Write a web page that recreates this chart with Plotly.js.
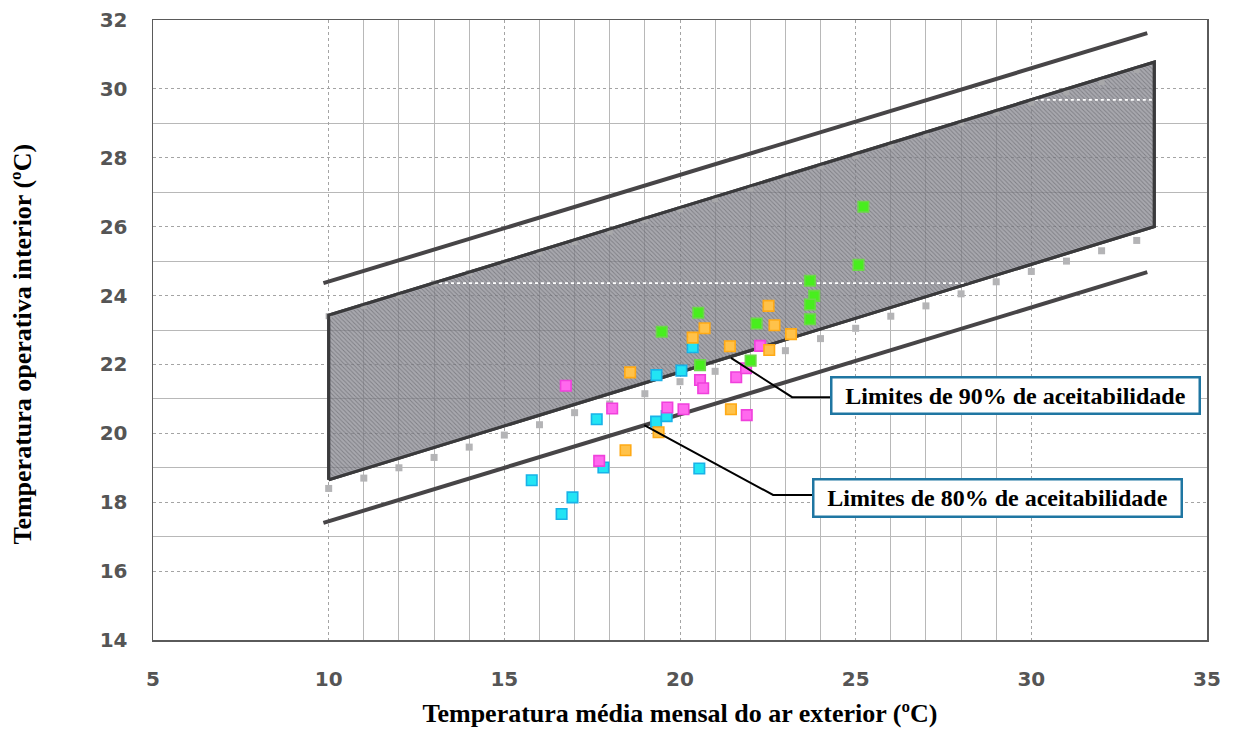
<!DOCTYPE html>
<html>
<head>
<meta charset="utf-8">
<script src="https://cdn.plot.ly/plotly-3.0.1.min.js"></script>
<style>
  html, body { margin: 0; padding: 0; background: #ffffff; }
  #chart { width: 1237px; height: 729px; }
</style>
</head>
<body>
<div id="chart"></div>
<script>
// Axis ticks
const xTickVals = [5, 10, 15, 20, 25, 30, 35];
const yTickVals = [14, 16, 18, 20, 22, 24, 26, 28, 30, 32];
const xMinorGrid = [11, 12, 13, 14, 16, 17, 18, 19, 21, 22, 23, 24, 26, 27, 28, 29];
const yMinorGrid = [17, 19, 21, 23, 25, 27, 29];

// 90% acceptability band (closed outline)
const band90X = [10, 33.5, 33.5, 10, 10];
const band90Y = [18.65, 26.0, 30.78, 23.43, 18.65];

// 80% acceptability limits
const lim80X = [9.85, 33.3];
const lim80Upper = [24.36, 31.62];
const lim80Lower = [17.4, 24.68];

// White construction lines inside the band
const innerLineAX = [12.97, 28.26];
const innerLineAY = [24.36, 24.36];
const innerLineBX = [30.1, 33.5];
const innerLineBY = [29.68, 29.68];

// Reference markers along the 90% limits
const refX = [10, 11, 12, 13, 14, 15, 16, 17, 18, 19, 20, 21, 22, 23, 24, 25, 26, 27, 28, 29, 30, 31, 32, 33];
const refLower = [18.4, 18.7, 19.0, 19.3, 19.6, 19.95, 20.25, 20.6, 20.85, 21.15, 21.5, 21.8, 22.1, 22.4, 22.75, 23.05, 23.4, 23.7, 24.05, 24.4, 24.7, 25.0, 25.3, 25.6];
const refUpper = [23.4, 23.7, 24.0, 24.35, 24.65, 24.95, 25.25, 25.55, 25.85, 26.2, 26.5, 26.8, 27.1, 27.45, 27.75, 28.05, 28.35, 28.65, 29.0, 29.3, 29.6, 29.9, 30.2, 30.55];

// Measured points (outdoor mean monthly temperature, indoor operative temperature)
const cyanX = [20.36, 19.33, 20.04, 17.63, 19.32, 19.62, 17.82, 20.55, 15.78, 16.94, 16.63];
const cyanY = [22.50, 21.69, 21.82, 20.41, 20.34, 20.50, 19.01, 18.98, 18.64, 18.14, 17.66];
const magentaX = [22.28, 16.75, 18.07, 19.64, 20.10, 20.57, 20.66, 21.60, 21.88, 21.90, 17.70];
const magentaY = [22.54, 21.38, 20.72, 20.75, 20.70, 21.55, 21.31, 21.63, 21.89, 20.53, 19.20];
const orangeX = [22.52, 22.69, 23.16, 20.70, 20.36, 21.42, 22.54, 18.58, 21.45, 19.39, 18.45];
const orangeY = [23.70, 23.14, 22.88, 23.05, 22.78, 22.53, 22.42, 21.77, 20.70, 20.03, 19.51];
const greenX = [25.22, 25.08, 23.70, 23.82, 23.70, 23.70, 20.52, 19.48, 22.18, 22.01, 20.57];
const greenY = [26.58, 24.89, 24.43, 23.99, 23.74, 23.31, 23.50, 22.95, 23.19, 22.11, 21.98];

// Callout labels and their leader paths
const label90 = 'Limites de 90% de aceitabilidade';
const label80 = 'Limites de 80% de aceitabilidade';
const leader90X = [21.45, 23.19, 24.27];
const leader90Y = [22.19, 21.05, 21.05];
const leader80X = [18.98, 22.65, 23.76];
const leader80Y = [20.24, 18.21, 18.21];
const box90At = [29.54, 21.10];
const box80At = [29.03, 18.11];

function pts(xs, ys, fill, edge) {
  return {
    type: 'scatter', mode: 'markers', x: xs, y: ys, hoverinfo: 'x+y',
    marker: { symbol: 'square', size: 10.5, color: fill, line: { color: edge, width: 1.6 } }
  };
}

function leaderPath(xs, ys) {
  return xs.map((v, i) => (i === 0 ? 'M ' : 'L ') + v + ' ' + ys[i]).join(' ');
}

const traces = [
  {
    type: 'scatter', mode: 'lines', x: band90X, y: band90Y, fill: 'toself',
    fillcolor: 'rgba(132,132,140,0.7)',
    fillpattern: { shape: '\\', bgcolor: 'rgba(132,132,140,0.7)', fgcolor: '#55555c', fgopacity: 0.5, size: 3, solidity: 0.3 },
    line: { color: '#3a3a3c', width: 3 }, hoverinfo: 'skip'
  },
  {
    type: 'scatter', mode: 'lines', x: innerLineAX, y: innerLineAY,
    line: { color: '#ffffff', width: 1.6, dash: 'dot' }, hoverinfo: 'skip'
  },
  {
    type: 'scatter', mode: 'lines', x: innerLineBX, y: innerLineBY,
    line: { color: '#ffffff', width: 1.6, dash: 'dot' }, hoverinfo: 'skip'
  },
  {
    type: 'scatter', mode: 'markers', x: refX, y: refLower, hoverinfo: 'skip',
    marker: { symbol: 'square', size: 7, color: '#b4b4b6', line: { width: 0 } }
  },
  {
    type: 'scatter', mode: 'markers', x: refX, y: refUpper, hoverinfo: 'skip',
    marker: { symbol: 'square', size: 6, color: '#a8a8aa', line: { width: 0 } }
  },
  {
    type: 'scatter', mode: 'lines', x: band90X, y: band90Y,
    line: { color: '#3a3a3c', width: 3 }, hoverinfo: 'skip'
  },
  {
    type: 'scatter', mode: 'lines', x: lim80X, y: lim80Upper,
    line: { color: '#474547', width: 4 }, hoverinfo: 'skip'
  },
  {
    type: 'scatter', mode: 'lines', x: lim80X, y: lim80Lower,
    line: { color: '#474547', width: 4 }, hoverinfo: 'skip'
  },
  pts(cyanX, cyanY, '#22e4f4', '#18b2e8'),
  pts(magentaX, magentaY, '#ff68ee', '#f040dc'),
  pts(orangeX, orangeY, '#ffc24a', '#ffaa16'),
  pts(greenX, greenY, '#48ee1e', '#6cd84a')
];

const tickFont = { family: 'DejaVu Sans', size: 20, color: '#555555', weight: 'bold' };
const titleFont = { family: 'Liberation Serif', size: 26, color: '#000000', weight: 'bold' };
const boxFont = { family: 'Liberation Serif', size: 24, color: '#000000', weight: 'bold' };

const layout = {
  width: 1237, height: 729,
  margin: { l: 153, r: 30, t: 20, b: 89 },
  paper_bgcolor: '#ffffff', plot_bgcolor: '#ffffff',
  showlegend: false,
  xaxis: {
    range: [5, 35], tickmode: 'array', tickvals: xTickVals, ticktext: xTickVals.map(String),
    ticks: 'outside', ticklen: 20, tickcolor: 'rgba(0,0,0,0)', tickfont: tickFont,
    showgrid: true, gridcolor: '#a4a4a4', gridwidth: 1, griddash: 'dot',
    minor: { tickmode: 'array', tickvals: xMinorGrid, showgrid: true, gridcolor: '#b8b8b8', gridwidth: 1, griddash: 'solid', ticks: '' },
    showline: true, linecolor: '#5a5a5a', linewidth: 1.5, mirror: true, zeroline: false,
    title: { text: 'Temperatura média mensal do ar exterior (ºC)', font: titleFont, standoff: 14 }
  },
  yaxis: {
    range: [14, 32], tickmode: 'array', tickvals: yTickVals, ticktext: yTickVals.map(String),
    ticks: 'outside', ticklen: 20, tickcolor: 'rgba(0,0,0,0)', tickfont: tickFont,
    showgrid: true, gridcolor: '#a4a4a4', gridwidth: 1, griddash: 'dot',
    minor: { tickmode: 'array', tickvals: yMinorGrid, showgrid: true, gridcolor: '#b8b8b8', gridwidth: 1, griddash: 'solid', ticks: '' },
    showline: true, linecolor: '#5a5a5a', linewidth: 1.5, mirror: true, zeroline: false
  },
  shapes: [
    { type: 'path', xref: 'x', yref: 'y', path: leaderPath(leader90X, leader90Y), line: { color: '#000000', width: 2 } },
    { type: 'path', xref: 'x', yref: 'y', path: leaderPath(leader80X, leader80Y), line: { color: '#000000', width: 2 } }
  ],
  annotations: [
    {
      xref: 'paper', yref: 'paper', x: -0.124, y: 0.477, xanchor: 'center', yanchor: 'middle',
      text: 'Temperatura operativa interior (ºC)', textangle: -90, showarrow: false, font: titleFont
    },
    {
      xref: 'x', yref: 'y', x: box90At[0], y: box90At[1], text: label90, showarrow: false,
      font: boxFont, bgcolor: '#ffffff', bordercolor: '#1f76a2', borderwidth: 2.5, borderpad: 2,
      width: 362, height: 30, align: 'center', valign: 'middle'
    },
    {
      xref: 'x', yref: 'y', x: box80At[0], y: box80At[1], text: label80, showarrow: false,
      font: boxFont, bgcolor: '#ffffff', bordercolor: '#1f76a2', borderwidth: 2.5, borderpad: 2,
      width: 362, height: 31, align: 'center', valign: 'middle'
    }
  ]
};

Plotly.newPlot('chart', traces, layout, { displayModeBar: false, staticPlot: true });
</script>
</body>
</html>
